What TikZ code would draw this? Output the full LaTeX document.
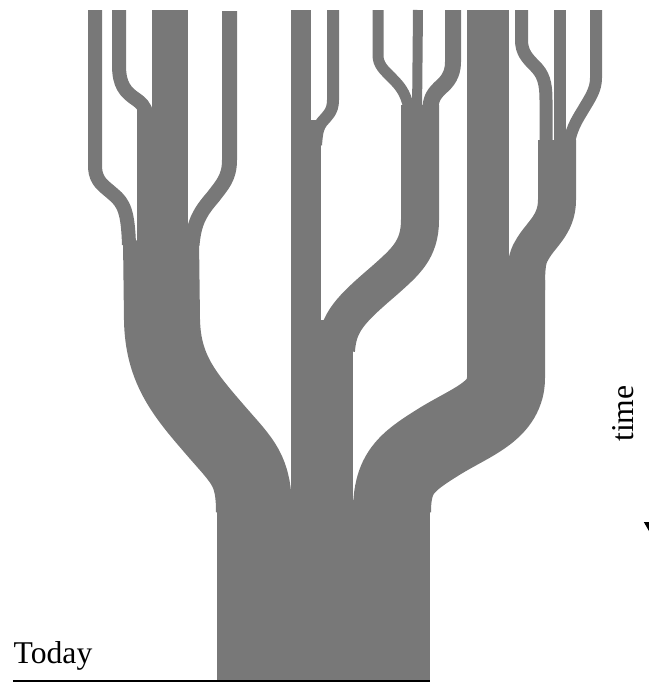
\documentclass[tikz,border=0pt]{standalone}
\usepackage{fontspec}
\setmainfont{Liberation Serif}
\usetikzlibrary{arrows.meta}
\definecolor{treegray}{RGB}{120,120,120}
\tikzset{
	branch/.style={draw=treegray, line width=#1*0.3pt, line cap=butt, line join=round},
	lbltext/.style={inner sep=0pt, font=\fontsize{9.5}{11}\selectfont}
}
\begin{document}
\begin{tikzpicture}[x=0.3pt,y=-0.3pt]
	\useasboundingbox (0,0) rectangle (648,682);
	% trunk
	\fill[treegray] (217,500) rectangle (430,681);
	% left branch
	\draw[branch=76] (161,240) -- (162,320) .. controls (163,370) and (185,395) .. (217,432) .. controls (243,462) and (254,470) .. (254,512);
	\draw[branch=51] (162.5,110) -- (162.5,260);
	\draw[branch=36] (170,10) -- (170,125);
	\draw[branch=14] (95,10) -- (95,168) .. controls (96,182) and (104,186) .. (113,194) .. controls (124,203) and (128,212) .. (129,245);
	\draw[branch=14] (119,10) -- (119,65) .. controls (119,85) and (125,92) .. (137,100) .. controls (145,106) and (147,110) .. (147,125);
	\draw[branch=15] (229.5,11) -- (229.5,160) .. controls (229.5,178) and (222,185) .. (213,197) .. controls (200,212) and (194,222) .. (192,245);
	% middle column
	\draw[branch=20] (301,10) -- (301,135);
	\draw[branch=30] (306,120) -- (306,340);
	\draw[branch=62] (322,320) -- (322,512);
	\draw[branch=12] (333,10) -- (333,100) .. controls (333,112) and (327,116) .. (322,122) .. controls (318,127) and (317,132) .. (316,145);
	% middle right branch
	\draw[branch=38] (420,105) -- (420,220) .. controls (420,250) and (405,262) .. (385,280) .. controls (350,310) and (338,322) .. (336,350);
	\draw[branch=11] (378,10) -- (378,55) .. controls (378,65) and (384,70) .. (392,78) .. controls (402,88) and (407,95) .. (410,115);
	\draw[branch=10] (418,10) -- (417,115);
	\draw[branch=16] (453,10) -- (453,62) .. controls (453,75) and (447,82) .. (440,88) .. controls (432,96) and (430,100) .. (430,118);
	% right branch
	\draw[branch=42] (488,10) -- (488,390);
	\draw[branch=38] (557,140) -- (557,200) .. controls (557,225) and (540,235) .. (532,250) .. controls (527,258) and (526,265) .. (526,290);
	\draw[branch=13] (521.5,10) -- (521.5,40) .. controls (521.5,52) and (527,58) .. (535,66) .. controls (543,74) and (546,82) .. (546,100) -- (546,160);
	\draw[branch=12] (560,10) -- (560,160);
	\draw[branch=12] (596,10) -- (596,78) .. controls (596,90) and (590,98) .. (583,110) .. controls (577,120) and (570,130) .. (568,150);
	\draw[branch=78] (506,280) -- (506,378) .. controls (506,412) and (470,422) .. (437,443) .. controls (405,463) and (392,474) .. (392,512);
	% labels
	\node[lbltext, anchor=base west] (today) at (13,663) {Today};
	\coordinate (baseL) at (13,681);
	\coordinate (baseR) at (430,681);
	\draw[line width=0.45pt] (baseL) -- (baseR);
	\node[lbltext, rotate=90, anchor=base] (time) at (633,413.5) {time};
	\coordinate (arrtop) at (649.5,450);
	\coordinate (arrbot) at (649.5,532);
	\draw[line width=0.4pt, -{Triangle[length=3pt,width=3.3pt]}] (arrtop) -- (arrbot);
\end{tikzpicture}
\end{document}
